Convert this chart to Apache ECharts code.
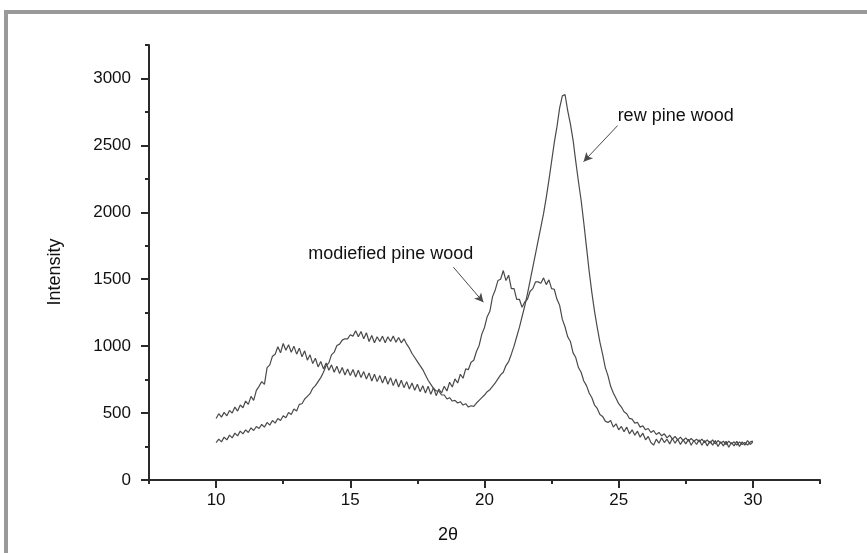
<!DOCTYPE html>
<html><head><meta charset="utf-8">
<script src="https://cdn.jsdelivr.net/npm/echarts@6/dist/echarts.min.js"></script>
<style>html,body{margin:0;padding:0;background:#fff}#c{width:867px;height:553px}</style>
</head><body><div id="c"></div>
<script>
// Uniform scan: 2θ from 10.0 to 30.0 in 0.1° steps
const twoThetaStart = 10.0;
const twoThetaStep = 0.1;

const modifiedIntensity = [
  460,495,470,505,480,520,500,545,515,560,
  540,590,565,625,595,670,700,735,715,840,
  860,925,940,995,950,1020,970,1010,955,1000,
  940,985,920,965,895,935,870,910,845,885,
  830,875,820,860,805,850,795,840,785,830,
  780,825,770,820,765,810,755,800,740,790,
  735,780,725,775,715,765,705,755,695,745,
  690,735,680,725,670,715,660,705,650,700,
  640,690,630,680,650,700,665,730,695,755,
  725,790,760,830,825,880,895,960,1005,1090,
  1140,1220,1260,1370,1420,1490,1500,1565,1490,1530,
  1430,1430,1350,1350,1290,1330,1350,1410,1430,1480,
  1480,1470,1510,1460,1495,1430,1425,1350,1305,1200,
  1145,1070,1035,950,915,840,805,740,705,650,
  615,560,535,490,475,440,430,445,395,420,
  375,400,360,395,345,375,335,365,320,350,
  300,325,280,260,305,275,315,280,305,270,
  310,275,305,265,300,270,305,260,295,265,
  300,260,295,255,290,260,295,250,285,255,
  290,245,280,255,290,250,285,260,295,265,
  285
];

const rawIntensity = [
  280,305,285,320,300,335,315,350,330,365,
  345,375,355,390,370,400,385,415,395,430,
  410,445,425,460,445,480,465,505,490,530,
  515,565,570,605,625,645,685,705,735,765,
  805,855,875,935,955,1005,1015,1045,1055,1055,
  1085,1075,1115,1070,1110,1055,1100,1035,1080,1025,
  1070,1035,1075,1025,1070,1035,1075,1030,1065,1025,
  1055,1015,985,945,915,885,855,825,785,745,
  715,685,665,665,635,635,605,615,590,595,
  575,585,560,570,545,555,550,575,595,615,
  635,660,675,700,725,755,785,805,855,885,
  940,1000,1070,1140,1220,1300,1390,1490,1590,1690,
  1790,1890,1990,2110,2240,2380,2520,2640,2780,2870,
  2880,2760,2660,2540,2380,2230,2090,1920,1740,1560,
  1400,1260,1140,1030,940,840,780,700,650,610,
  570,545,510,495,460,455,425,430,395,405,
  375,385,355,370,340,355,330,345,315,335,
  305,325,300,320,295,315,290,310,290,305,
  285,305,280,300,275,300,270,295,275,290,
  265,290,270,285,260,285,265,280,260,285,
  290
];

const xMajorTicks = [10, 15, 20, 25, 30];
const xMinorTicks = [7.5, 12.5, 17.5, 22.5, 27.5, 32.5];
const yMajorTicks = [0, 500, 1000, 1500, 2000, 2500, 3000];
const yMinorTicks = [250, 750, 1250, 1750, 2250, 2750, 3250];

const annotations = [
  { text: 'rew pine wood', at: [24.96, 2723], from: [24.96, 2648], to: [23.69, 2378] },
  { text: 'modiefied pine wood', at: [13.43, 1688], from: [18.84, 1590], to: [19.96, 1328] }
];

const toPairs = arr => arr.map((v, i) => [+(twoThetaStart + i * twoThetaStep).toFixed(1), v]);

const FONT = '"Liberation Sans", Arial, sans-serif';
const AX = '#2a2a2a';
const LINE = '#4a4a4a';

const chart = echarts.init(document.getElementById('c'), null, { renderer: 'canvas' });

const axisCommonX = { type: 'value', min: 7.5, max: 32.5, position: 'bottom', splitLine: { show: false } };
const axisCommonY = { type: 'value', min: 0, max: 3250, position: 'left', splitLine: { show: false } };

chart.setOption({
  backgroundColor: '#fff',
  animation: false,
  grid: { left: 149, right: 47, top: 45, bottom: 73, outerBoundsMode: 'none' },
  xAxis: [
    Object.assign({}, axisCommonX, {
      axisLine: { onZero: false, lineStyle: { color: AX, width: 2 } },
      axisTick: { customValues: xMajorTicks, length: 8, lineStyle: { color: AX, width: 2 } },
      axisLabel: { customValues: xMajorTicks, fontSize: 17, color: '#111', fontFamily: FONT, margin: 12, formatter: v => String(v) }
    }),
    Object.assign({}, axisCommonX, {
      axisLine: { show: false, onZero: false },
      axisTick: { customValues: xMinorTicks, length: 4, lineStyle: { color: AX, width: 2 } },
      axisLabel: { show: false }
    })
  ],
  yAxis: [
    Object.assign({}, axisCommonY, {
      axisLine: { show: true, onZero: false, lineStyle: { color: AX, width: 2 } },
      axisTick: { show: true, customValues: yMajorTicks, length: 8, lineStyle: { color: AX, width: 2 } },
      axisLabel: { customValues: yMajorTicks, fontSize: 17, color: '#111', fontFamily: FONT, margin: 18, formatter: v => String(v) }
    }),
    Object.assign({}, axisCommonY, {
      axisLine: { show: false, onZero: false },
      axisTick: { show: true, customValues: yMinorTicks, length: 4, lineStyle: { color: AX, width: 2 } },
      axisLabel: { show: false }
    })
  ],
  series: [
    {
      name: 'modified pine wood', type: 'line', data: toPairs(modifiedIntensity),
      symbol: 'none', lineStyle: { color: LINE, width: 1.2 },
      markLine: {
        silent: true, symbol: ['none', 'arrow'], symbolSize: [7, 9],
        label: { show: false }, lineStyle: { color: LINE, width: 1, type: 'solid' },
        data: annotations.map(a => [{ coord: a.from }, { coord: a.to }])
      }
    },
    {
      name: 'raw pine wood', type: 'line', data: toPairs(rawIntensity),
      symbol: 'none', lineStyle: { color: LINE, width: 1.2 }
    }
  ]
});

const texts = annotations.map(a => {
  const p = chart.convertToPixel({ gridIndex: 0 }, a.at);
  return { type: 'text', x: p[0], y: p[1], style: { text: a.text, fontSize: 18, fontFamily: FONT, fill: '#111', textAlign: 'left', textVerticalAlign: 'middle' } };
});

chart.setOption({
  graphic: [
    { type: 'rect', shape: { x: 4, y: 10, width: 863, height: 4 }, style: { fill: '#9a9a9a' } },
    { type: 'rect', shape: { x: 4, y: 10, width: 4, height: 543 }, style: { fill: '#9a9a9a' } },
    { type: 'text', x: 55, y: 272, rotation: Math.PI / 2, style: { text: 'Intensity', fontSize: 18, fontFamily: FONT, fill: '#111', textAlign: 'center', textVerticalAlign: 'middle' } },
    { type: 'text', x: 448, y: 535, style: { text: '2θ', fontSize: 18, fontFamily: FONT, fill: '#111', textAlign: 'center', textVerticalAlign: 'middle' } }
  ].concat(texts)
});
</script></body></html>
